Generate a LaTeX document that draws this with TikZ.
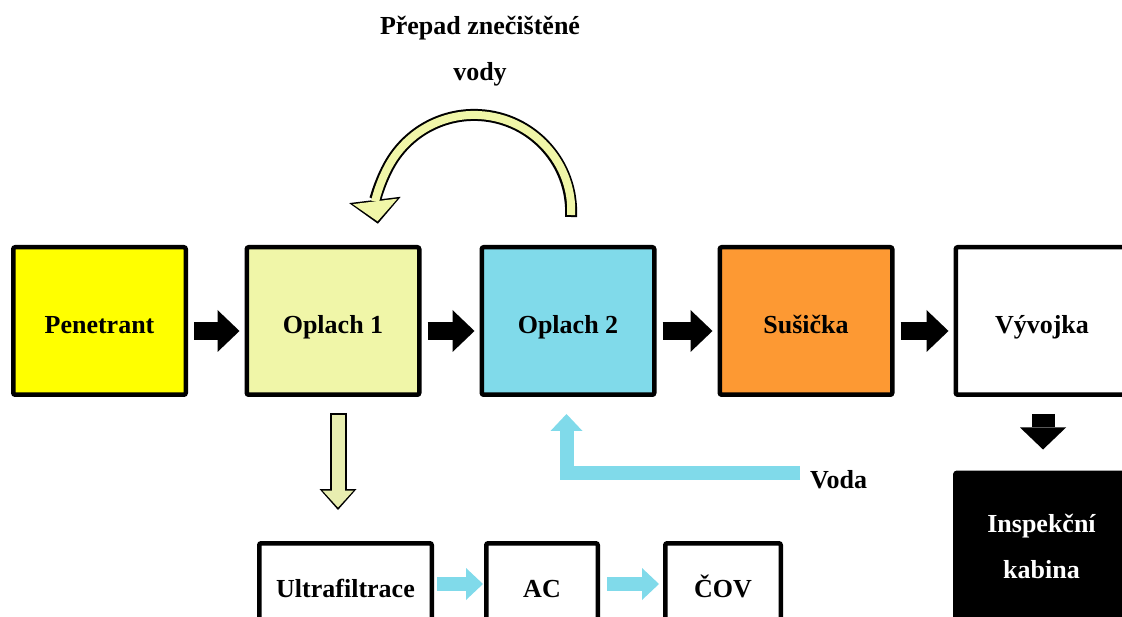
\documentclass[tikz,border=0pt]{standalone}
\usepackage{fontspec}
\setmainfont{Liberation Serif}
\usepackage{tikz}
\usetikzlibrary{arrows.meta,calc}

\definecolor{penyellow}{RGB}{255,255,0}
\definecolor{rinsegreen}{RGB}{240,246,168}
\definecolor{arrowgreen}{RGB}{232,238,176}
\definecolor{waterblue}{RGB}{128,218,234}
\definecolor{dryorange}{RGB}{253,153,51}

\begin{document}
\begin{tikzpicture}[x=1pt, y=-1pt,
  frame/.style={draw, line width=4.5pt, rounded corners=2pt,
    minimum width=172.5pt, minimum height=147.5pt,
    font=\fontsize{26}{46}\selectfont\bfseries},
  box/.style={frame, text height=32pt, text depth=6pt},
  txt/.style={font=\fontsize{26}{46}\selectfont\bfseries, inner sep=0pt, align=center},
  flow/.style={line width=18pt, -{Triangle[width=42pt,length=22pt,line width=0pt]},
    shorten <=6pt, shorten >=5pt},
  water/.style={draw=waterblue, line width=14pt,
    -{Triangle[width=32pt,length=17pt,line width=0pt]}}]

  \useasboundingbox (0,0) rectangle (1122,617);
  \clip (0,0) rectangle (1122,617);

  % Draw the process boxes
  \node[box, fill=penyellow] (pen) at (99.5,321) {Penetrant};
  \node[box, fill=rinsegreen] (op1) at (333,321) {Oplach 1};
  \node[box, fill=waterblue] (op2) at (568,321) {Oplach 2};
  \node[box, fill=dryorange] (dry) at (806,321) {Sušička};
  \node[box] (dev) at (1042,321) {Vývojka};
  \node[frame, fill=black, text=white, align=center] (insp) at (1041.5,546.5) {Inspekční\\kabina};

  % Waste water boxes
  \node[box, minimum height=81.5pt] (uf) at (345.5,584) {Ultrafiltrace};
  \node[box, minimum width=111.5pt, minimum height=81.5pt] (ac) at (542,584) {AC};
  \node[box, minimum width=115.5pt, minimum height=81.5pt] (cov) at (723,584) {ČOV};

  % Labels
  \node[txt] (spill) at (480,51) {Přepad znečištěné\\vody};
  \node[txt, anchor=base west] (voda) at (810,488) {Voda};

  % Main flow arrows
  \draw[flow] ([yshift=-10pt]pen.east) -- ([yshift=-10pt]op1.west);
  \draw[flow] ([yshift=-10pt]op1.east) -- ([yshift=-10pt]op2.west);
  \draw[flow] ([yshift=-10pt]op2.east) -- ([yshift=-10pt]dry.west);
  \draw[flow] ([yshift=-10pt]dry.east) -- ([yshift=-10pt]dev.west);
  \draw[flow, line width=23pt, -{Triangle[width=46pt,length=22pt,line width=0pt]},
    shorten <=17pt, shorten >=21pt] ([xshift=1pt]dev.south) -- ([xshift=1pt]dev.south |- insp.north);

  % Overflow from Oplach 2 back to Oplach 1
  \draw[line width=12pt, -{Triangle[width=52pt,length=24pt,line width=0pt]}]
    (op2.north) ++(3,-28) arc[start angle=3, end angle=-187, radius=97];
  \draw[draw=rinsegreen, line width=8pt, -{Triangle[width=45pt,length=20pt,line width=0pt]},
    shorten <=2pt, shorten >=2.5pt]
    (op2.north) ++(3,-28) arc[start angle=3, end angle=-187, radius=97];

  % Oplach 1 to ultrafiltration
  \draw[line width=17pt, -{Triangle[width=37pt,length=21pt,line width=0pt]},
    shorten <=16pt, shorten >=31pt] ([xshift=5pt]op1.south) -- ([xshift=5pt]op1.south |- uf.north);
  \draw[draw=arrowgreen, line width=13pt, -{Triangle[width=31pt,length=17pt,line width=0pt]},
    shorten <=18pt, shorten >=33.5pt] ([xshift=5pt]op1.south) -- ([xshift=5pt]op1.south |- uf.north);

  % Water arrows
  \draw[water, shorten <=10pt, shorten >=17pt] ([yshift=6pt]voda.west) -| ([xshift=-1.5pt]op2.south);
  \draw[water, shorten <=3pt, shorten >=1pt] (uf.east) -- (ac.west);
  \draw[water, shorten <=7pt, shorten >=4pt] (ac.east) -- (cov.west);
\end{tikzpicture}
\end{document}
